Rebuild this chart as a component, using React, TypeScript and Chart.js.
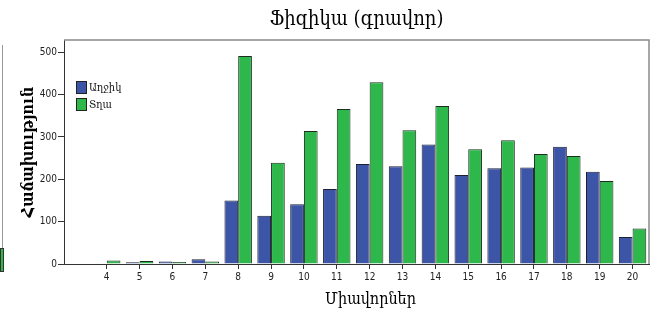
import React, { useEffect, useRef } from "react";
import { Chart, registerables } from "chart.js";

Chart.register(...registerables);

const chartTitle = "Ֆիզիկա (գրավոր)";
const xAxisTitle = "Միավորներ";
const yAxisTitle = "Հաճախություն";
const categories = [4, 5, 6, 7, 8, 9, 10, 11, 12, 13, 14, 15, 16, 17, 18, 19, 20];
const seriesNames = ["Աղջիկ", "Տղա"];
const girls = [1, 4, 6, 11, 150, 114, 141, 177, 236, 231, 282, 210, 226, 228, 277, 218, 64];
const boys = [8, 7, 5, 6, 491, 239, 314, 366, 429, 316, 373, 271, 292, 260, 255, 196, 84];
const yTickStep = 100;
const yMax = 529;
const xMin = 2.7;
const xMax = 20.5;

const BLUE = "#3d55a7";
const GREEN = "#2eb84b";
const SERIF = "'DejaVu Serif Condensed', 'DejaVu Serif', serif";
const NARROW = "'Liberation Sans Narrow', 'DejaVu Sans Condensed', sans-serif";

const framePlugin = {
  id: "frame",
  beforeDatasetsDraw(chart: any) {
    const { ctx, chartArea } = chart;
    ctx.save();
    ctx.strokeStyle = "#8a8a8a";
    ctx.lineWidth = 1.5;
    ctx.beginPath();
    ctx.moveTo(chartArea.left, chartArea.top);
    ctx.lineTo(chartArea.right, chartArea.top);
    ctx.lineTo(chartArea.right, chartArea.bottom);
    ctx.stroke();
    ctx.restore();
  },
};

const legendPlugin = {
  id: "innerLegend",
  afterDraw(chart: any) {
    const { ctx, chartArea } = chart;
    ctx.save();
    chart.data.datasets.forEach((ds: any, i: number) => {
      const x = chartArea.left + 12;
      const y = chartArea.top + 41 + i * 17;
      ctx.fillStyle = ds.backgroundColor;
      ctx.fillRect(x, y, 11, 13);
      ctx.strokeStyle = "#222";
      ctx.lineWidth = 1;
      ctx.strokeRect(x + 0.5, y + 0.5, 10, 12);
      ctx.fillStyle = "#111";
      ctx.font = `11px ${SERIF}`;
      ctx.textBaseline = "middle";
      ctx.textAlign = "left";
      ctx.fillText(ds.label, x + 13, y + 7);
    });
    ctx.restore();
  },
};

const xTitlePlugin = {
  id: "xTitle",
  afterDraw(chart: any) {
    const { ctx, chartArea } = chart;
    ctx.save();
    ctx.fillStyle = "#000";
    ctx.font = `16px ${SERIF}`;
    ctx.textAlign = "center";
    ctx.textBaseline = "middle";
    ctx.fillText(xAxisTitle, (chartArea.left + chartArea.right) / 2 + 14, 300);
    ctx.restore();
  },
};

export default function App() {
  const canvasRef = useRef<HTMLCanvasElement | null>(null);

  useEffect(() => {
    if (!canvasRef.current) return;
    const chart = new Chart(canvasRef.current, {
      type: "bar",
      data: {
        datasets: [
          {
            label: seriesNames[0],
            data: categories.map((c, i) => ({ x: c, y: girls[i] })),
            backgroundColor: BLUE,
            borderColor: "#1b1f33",
            borderWidth: 1,
            categoryPercentage: 0.835,
            barPercentage: 1,
          },
          {
            label: seriesNames[1],
            data: categories.map((c, i) => ({ x: c, y: boys[i] })),
            backgroundColor: GREEN,
            borderColor: "#1b2e1f",
            borderWidth: 1,
            categoryPercentage: 0.835,
            barPercentage: 1,
          },
        ],
      },
      options: {
        responsive: false,
        animation: false,
        devicePixelRatio: 1,
        layout: { padding: { top: 0, right: 2, bottom: 0, left: 0 } },
        plugins: {
          legend: { display: false },
          tooltip: { enabled: false },
          title: {
            display: true,
            text: chartTitle,
            fullSize: false,
            color: "#000",
            font: { family: SERIF, size: 20, weight: "normal" },
            padding: { top: 8, bottom: 8 },
          },
        },
        scales: {
          x: {
            type: "linear",
            min: xMin,
            max: xMax,
            offset: false,
            afterBuildTicks: (s: any) => {
              s.ticks = categories.map((v) => ({ value: v }));
            },
            afterFit: (s: any) => {
              s.height = 52;
            },
            ticks: {
              autoSkip: false,
              maxRotation: 0,
              color: "#222",
              padding: 2,
              font: { family: NARROW, size: 10 },
              callback: (v: any) => String(v),
            },
            grid: { drawOnChartArea: false, drawTicks: true, tickLength: 5, color: "#333", offset: false },
            border: { display: true, color: "#333", width: 1 },
          },
          y: {
            min: 0,
            max: yMax,
            afterFit: (s: any) => {
              s.width = 64;
            },
            ticks: {
              stepSize: yTickStep,
              includeBounds: false,
              color: "#222",
              padding: 1,
              font: { family: NARROW, size: 10 },
            },
            grid: { drawOnChartArea: false, drawTicks: true, tickLength: 6, color: "#333" },
            border: { display: true, color: "#333", width: 1 },
            title: {
              display: true,
              text: yAxisTitle,
              color: "#000",
              font: { family: SERIF, size: 16, weight: "bold" },
              padding: { top: 19, bottom: 0 },
            },
          },
        },
      },
      plugins: [framePlugin, legendPlugin, xTitlePlugin],
    } as any);
    return () => chart.destroy();
  }, []);

  return (
    <div style={{ position: "fixed", left: 0, top: 0, width: 651, height: 316, background: "#fff" }}>
      <div style={{ position: "absolute", left: 2, top: 45, width: 0, height: 204, borderLeft: "1px solid #999" }} />
      <div style={{ position: "absolute", left: 0, top: 248, width: 2, height: 22, background: GREEN, border: "1px solid #333" }} />
      <canvas ref={canvasRef} width={651} height={316} style={{ position: "absolute", left: 0, top: 0 }} />
    </div>
  );
}
